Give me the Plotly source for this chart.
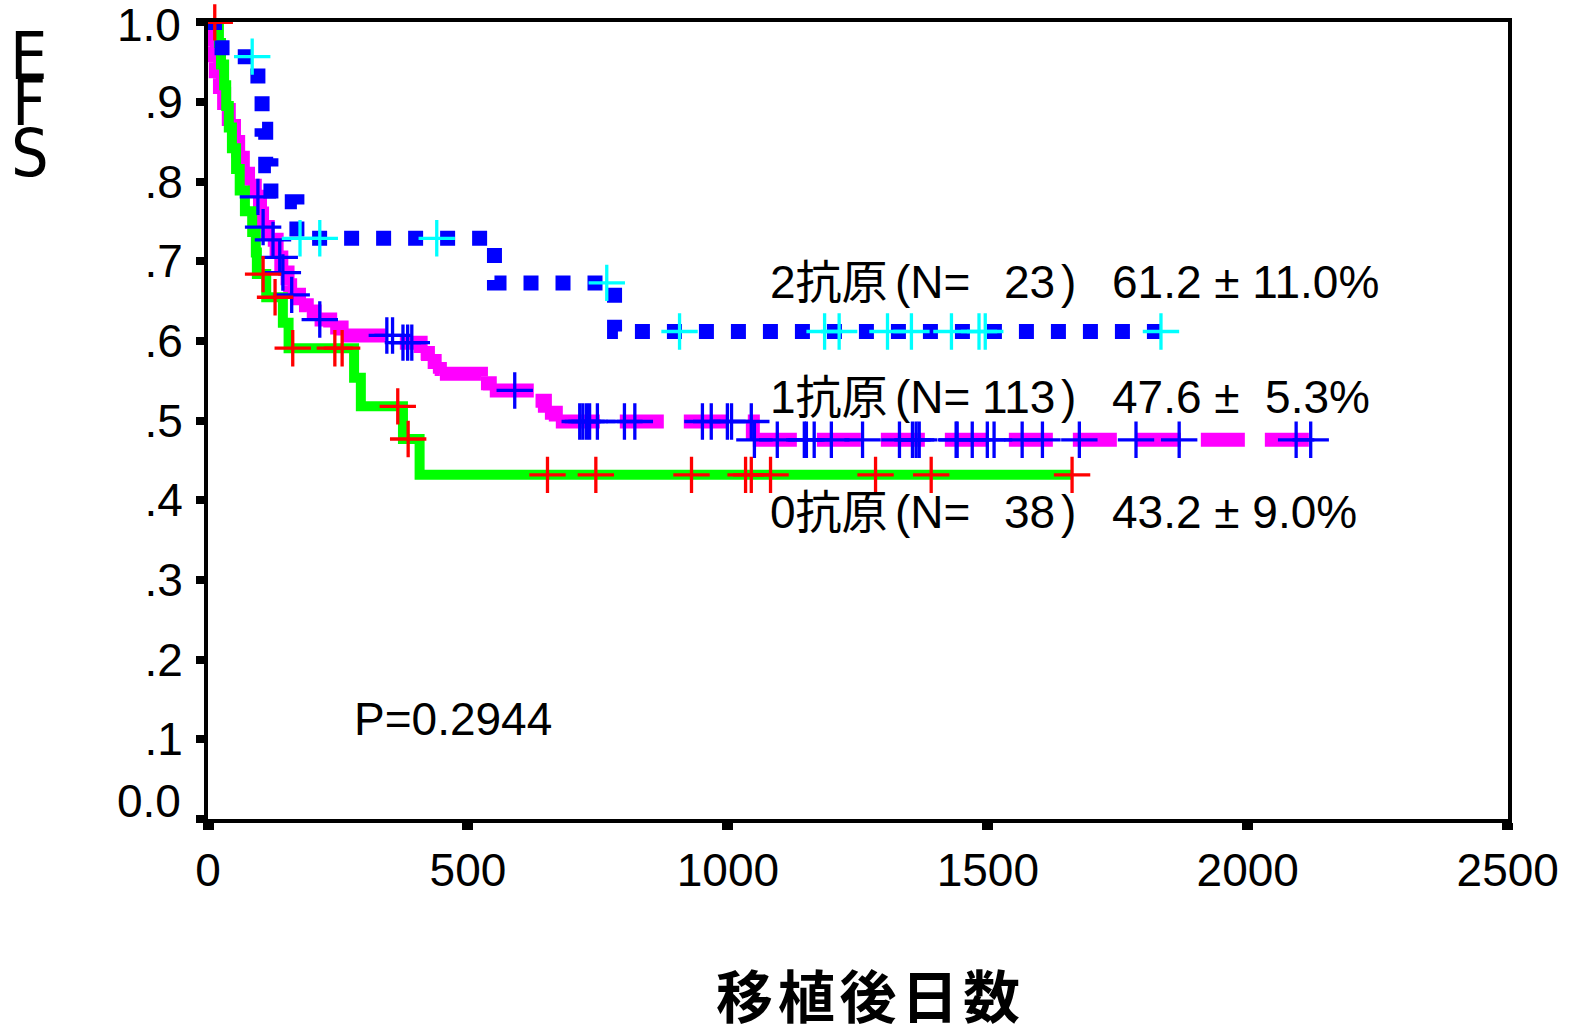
import plotly.graph_objects as go

# ---- Kaplan-Meier estimates (days after transplant, EFS) ----
# group "0抗原" (N=38): event days and survival after each drop (starts at 1.0 on day 0)
g0_time = [0, 21, 25, 31, 35, 40, 46, 54, 61, 71, 85, 92, 94, 112, 144, 155, 281, 294, 375, 407]
g0_surv = [1.0, .974, .947, .921, .895, .868, .842, .816, .789, .763, .737, .711, .684, .655,
           .623, .591, .554, .518, .477, .432]
g0_cens_time = [13, 106, 129, 163, 244, 258, 365, 385, 653, 746, 930, 1034, 1045, 1082, 1284, 1391, 1662]
g0_cens_surv = [1.0, .684, .655, .591, .591, .591, .518, .477, .432, .432, .432, .432, .432, .432,
                .432, .432, .432]

# group "1抗原" (N=113)
g1_time = [0, 4, 10, 15, 23, 31, 40, 50, 58, 67, 77, 90, 100, 104, 115, 132, 141, 153, 158, 175,
           190, 205, 235, 257, 369, 409, 423, 436, 446, 525, 542, 630, 648, 669, 1048]
g1_surv = [1.0, .97, .95, .93, .91, .89, .87, .85, .83, .81, .795, .781, .76, .743, .727, .705,
           .686, .670, .658, .645, .637, .627, .617, .607, .598, .585, .575, .565, .559, .547,
           .538, .525, .51, .499, .476]
g1_cens_time = [96, 106, 125, 138, 144, 161, 215, 344, 355, 375, 384, 392, 590,
                715, 721, 728, 734, 749, 801, 821, 951, 968, 999, 1007, 1045,
                1051, 1095, 1147, 1151, 1166, 1199, 1259, 1330, 1355, 1362, 1368, 1439, 1441,
                1470, 1499, 1512, 1566, 1605, 1676, 1785, 1868, 2093, 2121]
g1_cens_surv = [.781, .743, .727, .705, .686, .658, .627, .607, .607, .598, .598, .598, .538,
                .499, .499, .499, .499, .499, .499, .499, .499, .499, .499, .499, .499,
                .476, .476, .476, .476, .476, .476, .476, .476, .476, .476, .476, .476, .476,
                .476, .476, .476, .476, .476, .476, .476, .476, .476, .476]

# group "2抗原" (N=23)
g2_time = [0, 27, 96, 104, 111, 121, 171, 551, 782]
g2_surv = [1.0, .957, .911, .866, .820, .775, .729, .673, .612]
g2_cens_time = [85, 177, 215, 440, 767, 907, 1186, 1214, 1307, 1353, 1430, 1483, 1495, 1833]
g2_cens_surv = [.957, .729, .729, .729, .673, .612, .612, .612, .612, .612, .612, .612, .612, .612]

group_digits = ["2", "1", "0"]
group_n = ["23", "113", "38"]
group_stats = ["61.2 ± 11.0%", "47.6 ±\u00a0\u00a05.3%", "43.2 ± 9.0%"]
p_text = "P=0.2944"
x_title = "\u200a".join("移植後日数")
y_title = ["E", "F", "S"]

x_ticks = [0, 500, 1000, 1500, 2000, 2500]
y_ticks = [0.0, 0.1, 0.2, 0.3, 0.4, 0.5, 0.6, 0.7, 0.8, 0.9, 1.0]
y_ticktext = ["", ".1", ".2", ".3", ".4", ".5", ".6", ".7", ".8", ".9", ""]
# end labels are set as free text so they can sit just inside the frame
y_end_labels = [("0.0", 801), ("1.0", 25)]

# ---- page geometry ----
W, H = 1570, 1031
L, R, T, B = 208, 62, 22, 212
PW, PH = W - L - R, H - T - B

def fx(p):
    return (p - L) / PW

def fy(p):
    return (H - B - p) / PH

SANS = "Liberation Sans, Arial, sans-serif"
MIXED = "Liberation Sans, Noto Sans CJK JP, sans-serif"
NARROW = "Liberation Sans Narrow, DejaVu Sans Condensed, Liberation Sans, sans-serif"


def step_path(times, surv, t_end):
    """Continuous staircase ending at the last follow-up time."""
    return list(times) + [t_end], list(surv) + [surv[-1]]


def step_pieces(times, surv, t_end):
    """Each horizontal run plus its following drop as its own sub-path,
    so the dash pattern restarts at every event."""
    xs, ys = [], []
    for i, (t, s) in enumerate(zip(times, surv)):
        nxt = times[i + 1] if i + 1 < len(times) else t_end
        xs += [t, nxt]
        ys += [s, s]
        if i + 1 < len(times):
            xs.append(nxt)
            ys.append(surv[i + 1])
        xs.append(None)
        ys.append(None)
    return xs, ys


fig = go.Figure()

# 1 antigen: thick magenta dashed staircase
x1, y1 = step_pieces(g1_time, g1_surv, g1_cens_time[-1])
fig.add_trace(go.Scatter(x=x1, y=y1, mode="lines", connectgaps=False,
                         line=dict(color="#FF00FF", width=14, dash="44px,20px"),
                         cliponaxis=False, hoverinfo="skip", showlegend=False))

# 0 antigen: solid green staircase
x0, y0 = step_path(g0_time, g0_surv, g0_cens_time[-1])
fig.add_trace(go.Scatter(x=x0, y=y0, mode="lines", line_shape="hv",
                         line=dict(color="#00FF00", width=10),
                         cliponaxis=False, hoverinfo="skip", showlegend=False))

# 2 antigens: blue square-dotted staircase
x2, y2 = step_path(g2_time, g2_surv, g2_cens_time[-1])
fig.add_trace(go.Scatter(x=x2, y=y2, mode="lines", line_shape="hv",
                         line=dict(color="#0000FF", width=15, dash="15px,17px"),
                         cliponaxis=False, hoverinfo="skip", showlegend=False))

# censored observations
for ct, cs, col in [(g1_cens_time, g1_cens_surv, "#0000FF"),
                    (g2_cens_time, g2_cens_surv, "#00FFFF"),
                    (g0_cens_time, g0_cens_surv, "#FF0000")]:
    fig.add_trace(go.Scatter(x=ct, y=cs, mode="markers",
                             marker=dict(symbol="cross-thin", size=26,
                                         line=dict(width=3.3, color=col)),
                             cliponaxis=False, hoverinfo="skip", showlegend=False))

ann = []
row_y = [282, 397, 512]
for d, n, st, yy in zip(group_digits, group_n, group_stats, row_y):
    common = dict(xref="paper", yref="paper", y=fy(yy), yanchor="middle",
                  showarrow=False, font=dict(family=MIXED, size=46, color="black"))
    ann.append(dict(x=fx(768), xanchor="left", text=f"{d}抗原", **common))
    ann.append(dict(x=fx(893), xanchor="left", text="(N=", **common))
    ann.append(dict(x=fx(1057), xanchor="right", text=n, **common))
    ann.append(dict(x=fx(1059), xanchor="left", text=")", **common))
    ann.append(dict(x=fx(1110), xanchor="left", text=st, **common))

ann.append(dict(xref="paper", yref="paper", x=fx(352), y=fy(719), xanchor="left", yanchor="middle",
                text=p_text, showarrow=False, font=dict(family=SANS, size=46, color="black")))

for lab, yy in y_end_labels:
    ann.append(dict(xref="paper", yref="paper", x=fx(183), y=fy(yy), xanchor="right",
                    yanchor="middle", text=lab, showarrow=False,
                    font=dict(family=SANS, size=46, color="black")))

for ch, cx, cy in zip(y_title, [29, 29, 30], [57, 102, 153]):
    ann.append(dict(xref="paper", yref="paper", x=fx(cx), y=fy(cy), xanchor="center",
                    yanchor="middle", text=ch, showarrow=False,
                    font=dict(family=NARROW, size=66, color="black")))

ann.append(dict(xref="paper", yref="paper", x=fx(868), y=fy(998), xanchor="center",
                yanchor="middle", text=f"<b>{x_title}</b>", showarrow=False,
                font=dict(family=MIXED, size=57, color="black")))

fig.update_layout(
    width=W, height=H,
    margin=dict(l=L, r=R, t=T, b=B, pad=0, autoexpand=False),
    paper_bgcolor="white", plot_bgcolor="white",
    showlegend=False,
    annotations=ann,
    xaxis=dict(range=[0, 2500.5], tickvals=x_ticks, ticks="outside", ticklen=7, tickwidth=11,
               tickcolor="black", showline=True, linewidth=4, linecolor="black", mirror=True,
               showgrid=False, zeroline=False, ticklabelstandoff=1, automargin=False,
               tickfont=dict(family=SANS, size=46, color="black")),
    yaxis=dict(range=[0, 1.0005], tickvals=y_ticks, ticktext=y_ticktext, ticks="outside", ticklen=8,
               tickwidth=8, tickcolor="black", showline=True, linewidth=4, linecolor="black",
               mirror=True, showgrid=False, zeroline=False, ticklabelstandoff=4, automargin=False,
               tickfont=dict(family=SANS, size=46, color="black")),
)

fig.write_html("out.html", config={"displayModeBar": False})
